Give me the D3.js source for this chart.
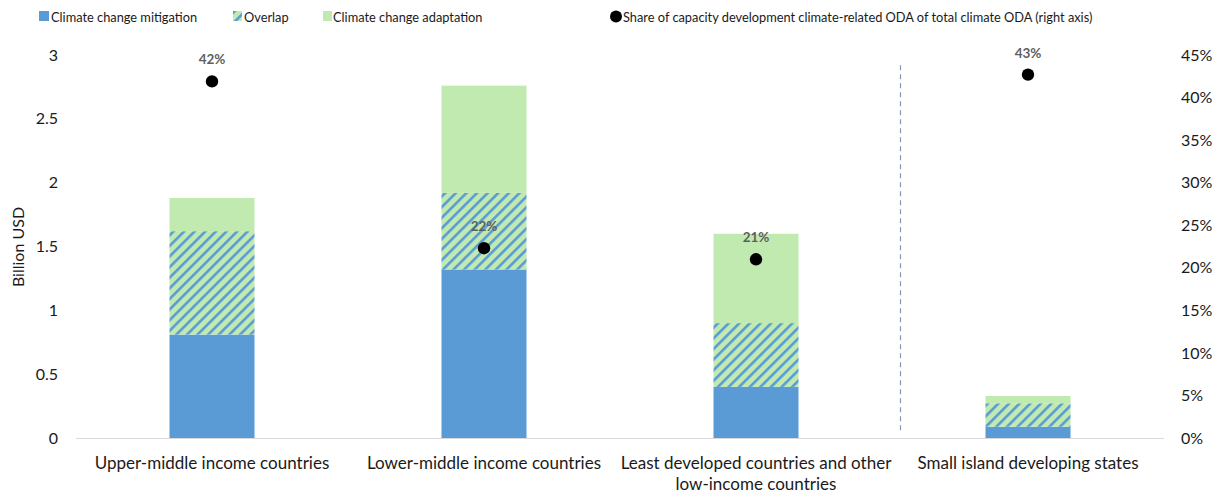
<!DOCTYPE html>
<html><head><meta charset="utf-8">
<script src="https://cdn.jsdelivr.net/npm/d3@7"></script>
<style>
body{margin:0;background:#fff;}
text{font-family:Lato,"Open Sans",sans-serif;}
</style></head>
<body><svg id="c" width="1220" height="493"></svg>
<script>
const categories = ["Upper-middle income countries","Lower-middle income countries","Least developed countries and other low-income countries","Small island developing states"];
const categoryLines = [["Upper-middle income countries"],["Lower-middle income countries"],["Least developed countries and other","low-income countries"],["Small island developing states"]];
const mitigation = [0.81, 1.32, 0.40, 0.088];
const overlap = [0.81, 0.60, 0.50, 0.184];
const adaptation = [0.26, 0.84, 0.70, 0.057];
const sharePct = [41.9, 22.3, 21.0, 42.7];
const shareLabels = ["42%","22%","21%","43%"];
const leftTicks = [0,0.5,1,1.5,2,2.5,3];
const rightTicks = [0,5,10,15,20,25,30,35,40,45];
const seriesNames = ["Climate change mitigation","Overlap","Climate change adaptation","Share of capacity development climate-related ODA of total climate ODA (right axis)"];

const C_MIT="#5b9bd5", C_ADA="#c1eab1", C_LBL="#5f5f5f", C_TXT="#1a1a1a";
const svg=d3.select("#c");
const defs=svg.append("defs");
const pat=defs.append("pattern").attr("id","hatch").attr("patternUnits","userSpaceOnUse")
  .attr("width",7.5).attr("height",7.5).attr("patternTransform","rotate(45)");
pat.append("rect").attr("width",7.5).attr("height",7.5).attr("fill",C_ADA);
pat.append("rect").attr("x",0).attr("width",2.6).attr("height",7.5).attr("fill",C_MIT);

const L=76,R=1164,T=55,B=438;
const x=d3.scaleBand().domain(categories).range([L,R]).paddingInner(0.6875).paddingOuter(0.34375);
const y=d3.scaleLinear().domain([0,3]).range([B,T]);
const y2=d3.scaleLinear().domain([0,45]).range([B,T]);

// axis line
svg.append("line").attr("x1",L).attr("x2",R).attr("y1",y(0)+0.5).attr("y2",y(0)+0.5).attr("stroke","#d9d9d9").attr("stroke-width",1);

// stacked bars
const stackData=categories.map((c,i)=>({cat:c,mit:mitigation[i],ovl:overlap[i],ada:adaptation[i]}));
const stack=d3.stack().keys(["mit","ovl","ada"])(stackData);
const fills={mit:C_MIT,ovl:"url(#hatch)",ada:C_ADA};
stack.forEach(s=>{
  svg.append("g").selectAll("rect").data(s).join("rect")
    .attr("x",d=>x(d.data.cat)).attr("width",x.bandwidth())
    .attr("y",d=>y(d[1])).attr("height",d=>y(d[0])-y(d[1]))
    .attr("fill",fills[s.key]);
});

// dashed separator
const sepX=x(categories[3])-x.bandwidth();
svg.append("line").attr("x1",sepX).attr("x2",sepX).attr("y1",y(2.92)).attr("y2",y(0.05))
  .attr("stroke","#8497b0").attr("stroke-width",1.2).attr("stroke-dasharray","5,4");

// left axis
const ga=svg.append("g").attr("transform",`translate(${L-18},0)`)
  .call(d3.axisLeft(y).tickValues(leftTicks).tickFormat(d3.format("")).tickSize(0).tickPadding(0));
ga.select(".domain").remove();
ga.selectAll("text").attr("font-size",16).attr("fill",C_TXT).attr("font-family","Lato,sans-serif");

// right axis
const gb=svg.append("g").attr("transform",`translate(${R+17},0)`)
  .call(d3.axisRight(y2).tickValues(rightTicks).tickFormat(d=>d+"%").tickSize(0).tickPadding(0));
gb.select(".domain").remove();
gb.selectAll("text").attr("font-size",16).attr("fill",C_TXT).attr("font-family","Lato,sans-serif");

// y label
svg.append("text").attr("transform",`translate(24,247) rotate(-90)`).attr("text-anchor","middle")
  .attr("font-size",16).attr("fill",C_TXT).text("Billion USD");

// category labels
categories.forEach((c,i)=>{
  const cx=x(c)+x.bandwidth()/2;
  const t=svg.append("text").attr("x",cx).attr("y",469).attr("text-anchor","middle")
    .attr("font-size",17).attr("fill",C_TXT);
  categoryLines[i].forEach((ln,j)=>t.append("tspan").attr("x",cx).attr("dy",j?21:0).text(ln));
});

// dots
svg.append("g").selectAll("circle").data(sharePct).join("circle")
  .attr("cx",(d,i)=>x(categories[i])+x.bandwidth()/2).attr("cy",d=>y2(d)).attr("r",6.2).attr("fill","#000");
svg.append("g").selectAll("text").data(sharePct).join("text")
  .attr("x",(d,i)=>x(categories[i])+x.bandwidth()/2).attr("y",d=>y2(d)-17)
  .attr("text-anchor","middle").attr("font-size",13.5).attr("font-weight","bold").attr("fill",C_LBL)
  .text((d,i)=>shareLabels[i]);

// legend
const lg=svg.append("g").attr("font-size",12.8).attr("fill",C_TXT);
const legX=[39,233,323,610];
lg.append("rect").attr("x",legX[0]).attr("y",11).attr("width",10).attr("height",10).attr("fill",C_MIT);
lg.append("rect").attr("x",legX[1]).attr("y",11).attr("width",9).attr("height",10).attr("fill","url(#hatch)");
lg.append("rect").attr("x",legX[2]).attr("y",11).attr("width",9).attr("height",10).attr("fill",C_ADA);
lg.append("circle").attr("cx",legX[3]+6).attr("cy",16.5).attr("r",6).attr("fill","#000");
const textX=[51,244,333,623];
seriesNames.forEach((n,i)=>lg.append("text").attr("x",textX[i]).attr("y",21.5).text(n));
</script></body></html>
